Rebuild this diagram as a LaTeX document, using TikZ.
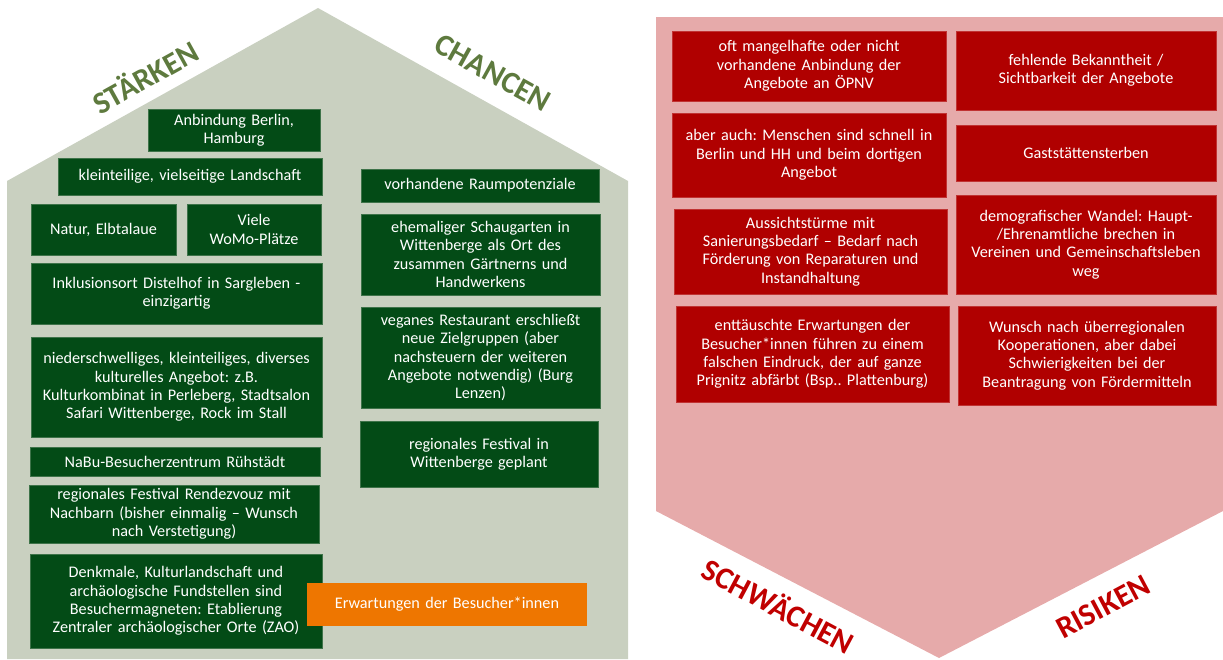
\documentclass[tikz,border=0pt]{standalone}
\usepackage{fontspec}
\setmainfont{Carlito}
\frenchspacing
\definecolor{sage}{RGB}{201,208,192}
\definecolor{dgreen}{RGB}{3,75,22}
\definecolor{tgreen}{RGB}{94,122,62}
\definecolor{orng}{RGB}{238,118,0}
\definecolor{pinkbg}{RGB}{230,170,170}
\definecolor{dred}{RGB}{176,0,0}
\definecolor{tred}{RGB}{192,0,0}
\newcommand\mkbox[7]{%
  \pgfmathsetmacro\myBw{#5-#3}\pgfmathsetmacro\myBh{#6-#4}%
  \pgfmathsetmacro\myBx{(#3+#5)/2}\pgfmathsetmacro\myBy{(#4+#6)/2}%
  \pgfmathsetmacro\myTw{#5-#3-4}%
  \node[#1, minimum width=\myBw pt, minimum height=\myBh pt, text width=\myTw pt] (#2) at (\myBx,\myBy) {#7};}
\begin{document}
\begin{tikzpicture}[x=1pt,y=-1pt,
  gbox/.style={fill=dgreen, draw=dgreen!70!sage, line width=0.6pt, text=white, align=center, inner sep=2pt, font=\fontsize{16.2}{18.4}\selectfont},
  rbox/.style={fill=dred, draw=dred!70!pinkbg, line width=0.6pt, text=white, align=center, inner sep=2pt, font=\fontsize{16.2}{18.4}\selectfont},
  obox/.style={fill=orng, draw=none, text=white, align=center, inner sep=2pt, font=\fontsize{16.2}{18.4}\selectfont},
  gtitle/.style={text=tgreen, font=\bfseries\fontsize{31}{34}\selectfont},
  rtitle/.style={text=tred, font=\bfseries\fontsize{31}{34}\selectfont}]
\useasboundingbox (0,0) rectangle (1223,659);
% shapes
\fill[sage] (7,659) -- (7,181) -- (318,8) -- (628,181) -- (628,659) -- cycle;
\fill[pinkbg] (656,17) -- (1223,17) -- (1223,511) -- (939,658) -- (656,511) -- cycle;
% titles
\node[gtitle, rotate=29] (staerken) at (145,76) {STÄRKEN};
\node[gtitle, rotate=-29] (chancen) at (493,73) {CHANCEN};
\node[rtitle, rotate=-28] (schwaechen) at (779,605) {SCHWÄCHEN};
\node[rtitle, rotate=28] (risiken) at (1103,607) {RISIKEN};
% Staerken
\mkbox{gbox}{s1}{148}{109}{320}{151}{Anbindung Berlin,\\Hamburg}
\mkbox{gbox}{s2}{58}{158}{322}{195}{kleinteilige, vielseitige Landschaft}
\mkbox{gbox}{s3}{31}{204}{176}{255}{Natur, Elbtalaue}
\mkbox{gbox}{s4}{187}{204}{321}{255}{Viele\\WoMo-Plätze}
\mkbox{gbox}{s5}{31}{263}{322}{324}{Inklusionsort Distelhof in Sargleben -\\einzigartig}
\mkbox{gbox}{s6}{31}{337}{322}{437}{niederschwelliges, kleinteiliges, diverses\\kulturelles Angebot: z.B.\\Kulturkombinat in Perleberg, Stadtsalon\\Safari Wittenberge, Rock im Stall}
\mkbox{gbox}{s7}{30}{447}{320}{476}{NaBu-Besucherzentrum Rühstädt}
\mkbox{gbox}{s8}{29}{485}{319}{543}{regionales Festival Rendezvouz mit\\Nachbarn (bisher einmalig – Wunsch\\nach Verstetigung)}
\mkbox{gbox}{s9}{30}{554}{322}{648}{Denkmale, Kulturlandschaft und\\archäologische Fundstellen sind\\Besuchermagneten: Etablierung\\Zentraler archäologischer Orte (ZAO)}
% Chancen
\mkbox{gbox}{c1}{361}{169}{599}{202}{vorhandene Raumpotenziale}
\mkbox{gbox}{c2}{361}{214}{600}{295}{ehemaliger Schaugarten in\\Wittenberge als Ort des\\zusammen Gärtnerns und\\Handwerkens}
\mkbox{gbox}{c3}{361}{307}{600}{408}{veganes Restaurant erschließt\\neue Zielgruppen (aber\\nachsteuern der weiteren\\Angebote notwendig) (Burg\\Lenzen)}
\mkbox{gbox}{c4}{360}{421}{598}{487}{regionales Festival in\\Wittenberge geplant}
% orange
\mkbox{obox}{o1}{307}{583}{587}{626}{Erwartungen der Besucher*innen}
% Schwaechen / Risiken
\mkbox{rbox}{w1}{672}{31}{946}{101}{oft mangelhafte oder nicht\\vorhandene Anbindung der\\Angebote an ÖPNV}
\mkbox{rbox}{r1}{956}{31}{1216}{110}{fehlende Bekanntheit /\\Sichtbarkeit der Angebote}
\mkbox{rbox}{w2}{672}{113}{946}{197}{aber auch: Menschen sind schnell in\\Berlin und HH und beim dortigen\\Angebot}
\mkbox{rbox}{r2}{956}{125}{1216}{181}{Gaststättensterben}
\mkbox{rbox}{w3}{674}{209}{947}{294}{Aussichtstürme mit\\Sanierungsbedarf – Bedarf nach\\Förderung von Reparaturen und\\Instandhaltung}
\mkbox{rbox}{r3}{956}{195}{1216}{294}{demografischer Wandel: Haupt-\\/Ehrenamtliche brechen in\\Vereinen und Gemeinschaftsleben\\weg}
\mkbox{rbox}{w4}{676}{306}{949}{402}{enttäuschte Erwartungen der\\Besucher*innen führen zu einem\\falschen Eindruck, der auf ganze\\Prignitz abfärbt (Bsp.. Plattenburg)}
\mkbox{rbox}{r4}{958}{306}{1216}{405}{Wunsch nach überregionalen\\Kooperationen, aber dabei\\Schwierigkeiten bei der\\Beantragung von Fördermitteln}
\end{tikzpicture}
\end{document}
